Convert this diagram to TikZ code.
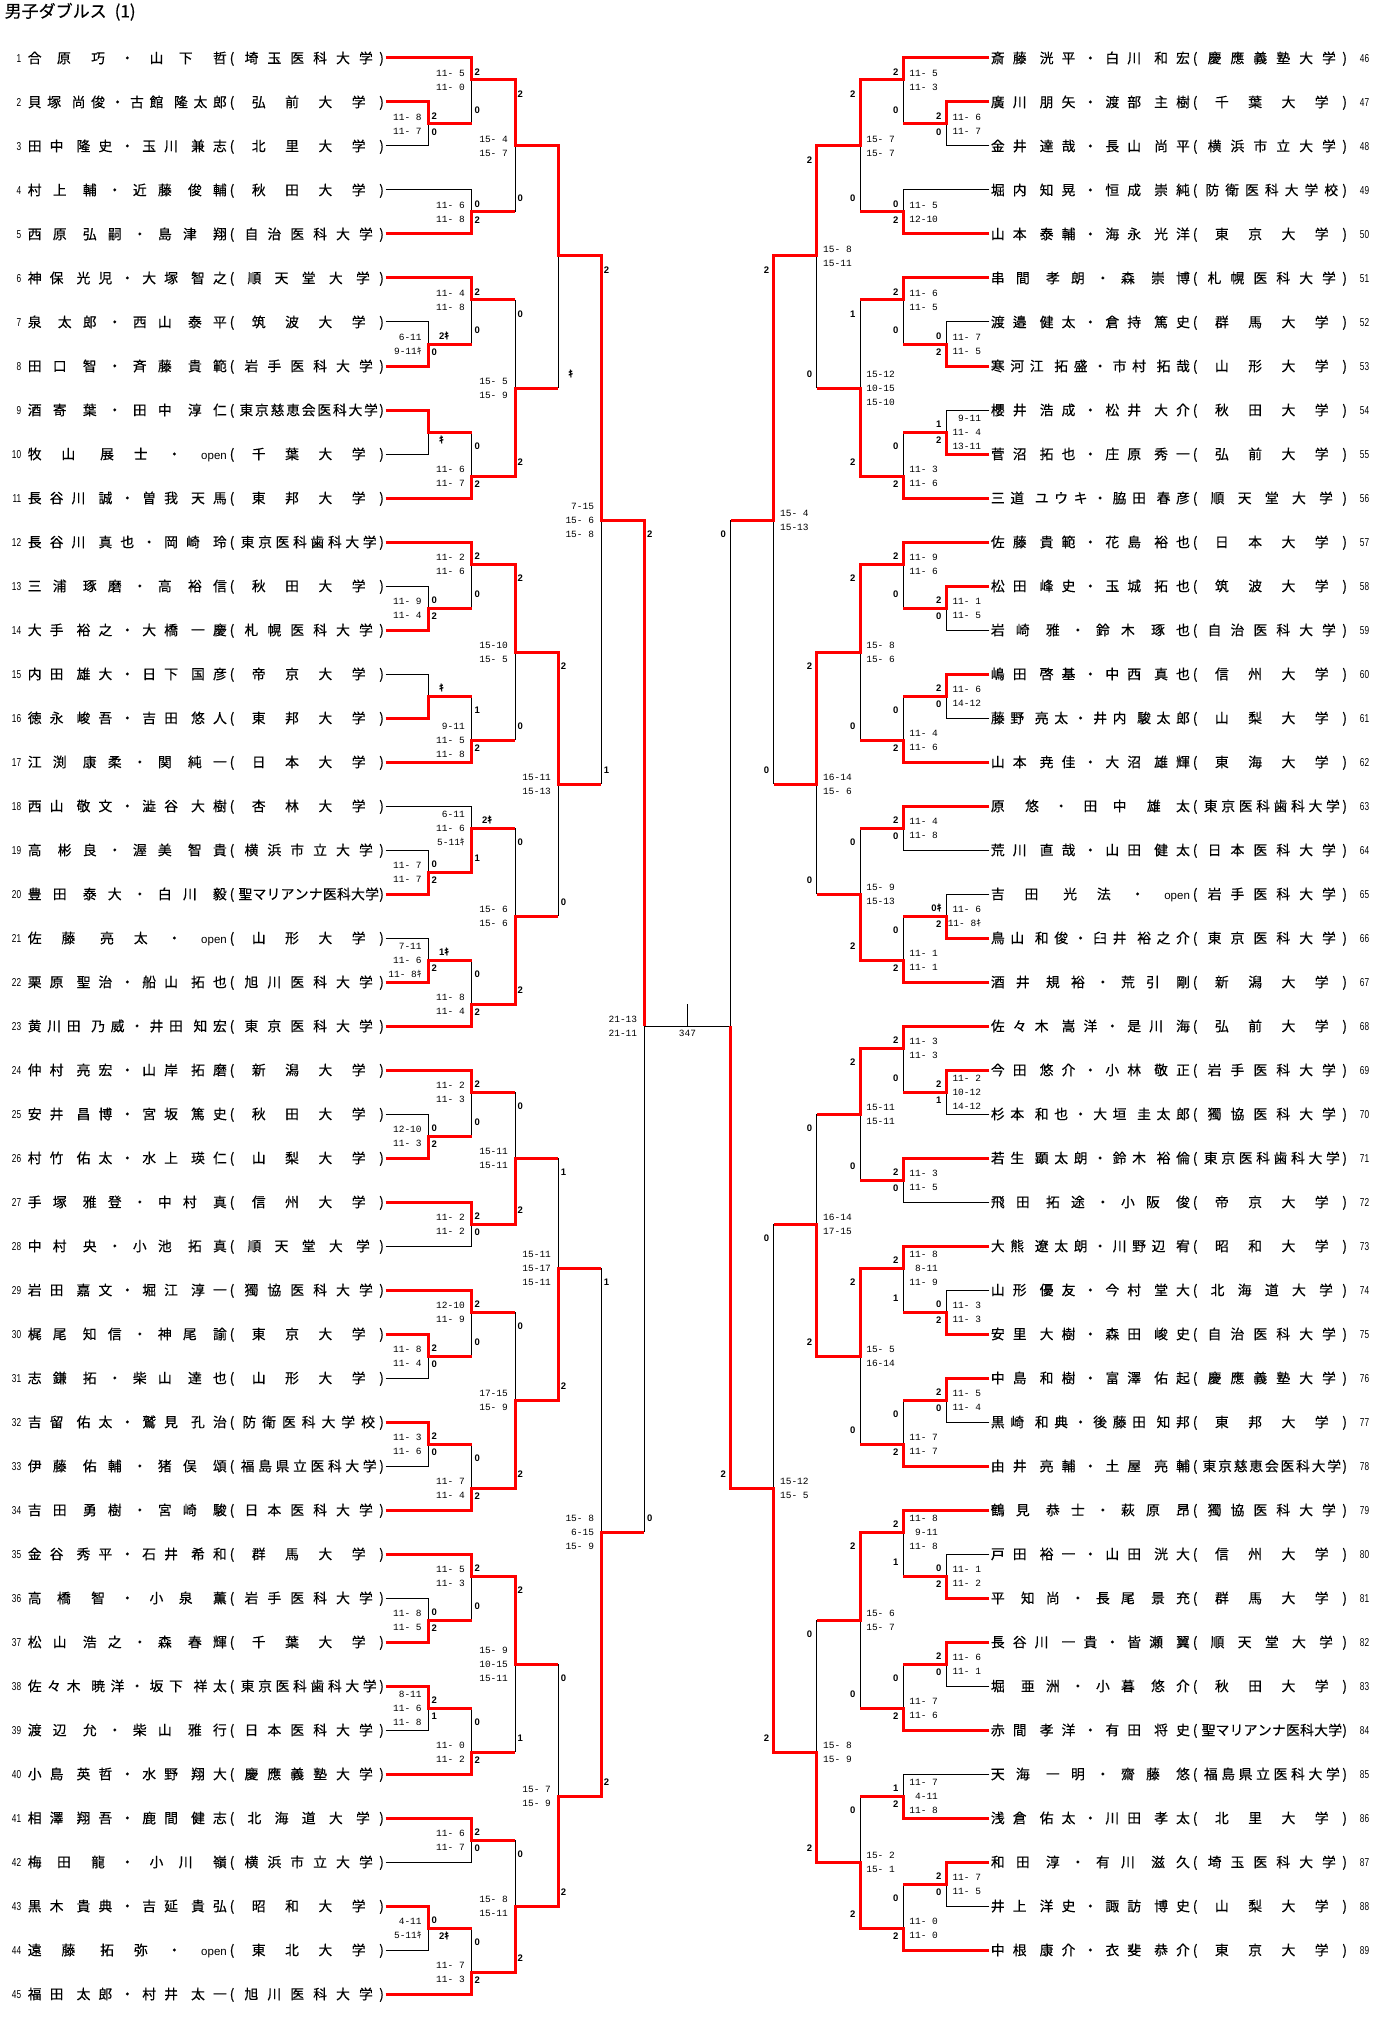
\documentclass[tikz,border=0pt]{standalone}
\usepackage{fontspec}
\setmainfont{Liberation Sans}
\newfontfamily\cjk{Noto Sans CJK JP}
\newfontfamily\cjkn[FakeBold=0.35]{Noto Sans CJK JP}
\newfontfamily\monof{Liberation Mono}
\newfontfamily\numf[FakeStretch=0.72]{Liberation Sans}
\newfontfamily\latf{Liberation Sans}
\pgfdeclarelayer{bg}
\pgfdeclarelayer{blk}
\pgfsetlayers{bg,blk,main}
\makeatletter
\def\bzsp{|}
\newcommand\bspreadname[1]{\makebox[199pt][s]{\@tfor\nx:=#1\do{\ifx\nx\bzsp\hspace{5pt}\else\nx\hfill\fi}\unskip}}
\newcommand\bspreaduni[1]{\makebox[141pt][s]{\hskip 0pt plus 0.7fil\relax\@tfor\nx:=#1\do{\nx\hskip 0pt plus 1fil\relax}\hskip 0pt plus -0.3fil\relax}}
\makeatother
\newcommand\bop{{\latf\fontsize{11.5}{12}\selectfont open}}
\newcommand\bki{{\cjk ｷ}}
\newcommand\bK{\hspace{7.5pt}}
\newcommand\bXL[1]{(385.7+43.1*(#1))}
\newcommand\bXR[1]{(989.3-43.1*(#1))}
\newcommand\bY[1]{(58+22*(#1))}
\tikzset{
 rd/.style={draw=red, line width=3pt, line join=miter},
 bl/.style={draw=black, line width=1pt},
 lab/.style={font=\bfseries\fontsize{9.5}{10}\selectfont, inner sep=0pt, text height=6.8pt, text depth=0pt},
 sc/.style={font=\monof\fontsize{9.5}{10}\selectfont, inner sep=0pt, text height=6.3pt, text depth=0pt},
 nametxt/.style={font=\cjkn\fontsize{13.8}{14}\selectfont, inner sep=0pt, text height=10.4pt, text depth=0pt},
 numtxt/.style={font=\numf\fontsize{11.5}{12}\selectfont, inner sep=0pt, text height=8.2pt, text depth=0pt},
}
% players
\newcommand\bLw[2]{\draw[rd] ({\bXL{0}},{\bY{#1}}) -- ({\bXL{#2}},{\bY{#1}});}
\newcommand\bLl[2]{\begin{pgfonlayer}{blk}\draw[bl] ({\bXL{0}},{\bY{#1}}) -- ({\bXL{#2}},{\bY{#1}});\end{pgfonlayer}}
\newcommand\bRw[2]{\draw[rd] ({\bXR{0}},{\bY{#1}}) -- ({\bXR{#2}},{\bY{#1}});}
\newcommand\bRl[2]{\begin{pgfonlayer}{blk}\draw[bl] ({\bXR{0}},{\bY{#1}}) -- ({\bXR{#2}},{\bY{#1}});\end{pgfonlayer}}
% matches: col, top, bottom, winner-in, out, next col, top label, bottom label
\newcommand\bLM[8]{%
 \begin{pgfonlayer}{blk}\draw[bl] ({\bXL{#1}},{\bY{#2}}) -- ({\bXL{#1}},{\bY{#3}});\end{pgfonlayer}
 \draw[rd] ({\bXL{#1}-3},{\bY{#4}}) -- ({\bXL{#1}},{\bY{#4}}) -- ({\bXL{#1}},{\bY{#5}}) -- ({\bXL{#6}},{\bY{#5}});
 \node[lab,anchor=west] (lt-#1-#2) at ({\bXL{#1}+2.5},{\bY{#2}+14.3}) {#7};
 \node[lab,anchor=west] (lb-#1-#3) at ({\bXL{#1}+2.5},{\bY{#3}-14.3}) {#8};}
\newcommand\bRM[8]{%
 \begin{pgfonlayer}{blk}\draw[bl] ({\bXR{#1}},{\bY{#2}}) -- ({\bXR{#1}},{\bY{#3}});\end{pgfonlayer}
 \draw[rd] ({\bXR{#1}+3},{\bY{#4}}) -- ({\bXR{#1}},{\bY{#4}}) -- ({\bXR{#1}},{\bY{#5}}) -- ({\bXR{#6}},{\bY{#5}});
 \node[lab,anchor=east] (rt-#1-#2) at ({\bXR{#1}-4.5},{\bY{#2}+14.3}) {#7};
 \node[lab,anchor=east] (rb-#1-#3) at ({\bXR{#1}-4.5},{\bY{#3}-14.3}) {#8};}
% scores: col, out, n lines, list
\newcommand\bLS[4]{\foreach \sx [count=\ix] in {#4} {\node[sc,anchor=east] (ls-#1-#2-\ix) at ({\bXL{#1}-7},{\bY{#2}+(\ix-(#3+1)/2)*14}) {\sx};}}
\newcommand\bRS[4]{\foreach \sx [count=\ix] in {#4} {\node[sc,anchor=east] (rs-#1-#2-\ix) at ({\bXR{#1}+35},{\bY{#2}+(\ix-(#3+1)/2)*14}) {\sx};}}
% names: number, h, name, university
\newcommand\bLN[4]{%
 \node[numtxt,anchor=east] (n#1) at (21.4,{\bY{#2}}) {#1};
 \node[nametxt,anchor=west] (p#1) at (27.6,{\bY{#2}}) {\bspreadname{#3}};
 \node[nametxt] (po#1) at (232,{\bY{#2}}) {(};
 \node[nametxt,anchor=west] (u#1) at (238,{\bY{#2}}) {\bspreaduni{#4}};
 \node[nametxt] (pc#1) at (381.6,{\bY{#2}}) {)};}
\newcommand\bRN[4]{%
 \node[numtxt,anchor=west] (n#1) at (1359.7,{\bY{#2}}) {#1};
 \node[nametxt,anchor=west] (p#1) at (990.7,{\bY{#2}}) {\bspreadname{#3}};
 \node[nametxt] (po#1) at (1195.1,{\bY{#2}}) {(};
 \node[nametxt,anchor=west] (u#1) at (1201.1,{\bY{#2}}) {\bspreaduni{#4}};
 \node[nametxt] (pc#1) at (1344.7,{\bY{#2}}) {)};}
\begin{document}
\begin{tikzpicture}[x=1pt,y=-1pt]
\begin{pgfonlayer}{bg}\fill[white] (0,0) rectangle (1375,2017);\end{pgfonlayer}
\useasboundingbox (0,0) rectangle (1375,2017);
\node[anchor=base west, font=\cjkn\fontsize{17}{18}\selectfont, inner sep=0pt] (title) at (4.5,17.4) {男子ダブルス\hspace{8pt}(1)};
% ---------------- left names
\bLN{1}{0}{合原|巧・山下|哲}{埼玉医科大学}
\bLN{2}{2}{貝塚|尚俊・古館|隆太郎}{弘前大学}
\bLN{3}{4}{田中|隆史・玉川|兼志}{北里大学}
\bLN{4}{6}{村上|輔・近藤|俊輔}{秋田大学}
\bLN{5}{8}{西原|弘嗣・島津|翔}{自治医科大学}
\bLN{6}{10}{神保|光児・大塚|智之}{順天堂大学}
\bLN{7}{12}{泉|太郎・西山|泰平}{筑波大学}
\bLN{8}{14}{田口|智・斉藤|貴範}{岩手医科大学}
\bLN{9}{16}{酒寄|葉・田中|淳仁}{東京慈恵会医科大学}
\bLN{10}{18}{牧山|展士・\bop}{千葉大学}
\bLN{11}{20}{長谷川|誠・曽我|天馬}{東邦大学}
\bLN{12}{22}{長谷川|真也・岡崎|玲}{東京医科歯科大学}
\bLN{13}{24}{三浦|琢磨・高|裕信}{秋田大学}
\bLN{14}{26}{大手|裕之・大橋|一慶}{札幌医科大学}
\bLN{15}{28}{内田|雄大・日下|国彦}{帝京大学}
\bLN{16}{30}{徳永|峻吾・吉田|悠人}{東邦大学}
\bLN{17}{32}{江渕|康柔・関|純一}{日本大学}
\bLN{18}{34}{西山|敬文・澁谷|大樹}{杏林大学}
\bLN{19}{36}{高|彬良・渥美|智貴}{横浜市立大学}
\bLN{20}{38}{豊田|泰大・白川|毅}{聖マリアンナ医科大学}
\bLN{21}{40}{佐藤|亮太・\bop}{山形大学}
\bLN{22}{42}{栗原|聖治・船山|拓也}{旭川医科大学}
\bLN{23}{44}{黄川田|乃威・井田|知宏}{東京医科大学}
\bLN{24}{46}{仲村|亮宏・山岸|拓磨}{新潟大学}
\bLN{25}{48}{安井|昌博・宮坂|篤史}{秋田大学}
\bLN{26}{50}{村竹|佑太・水上|瑛仁}{山梨大学}
\bLN{27}{52}{手塚|雅登・中村|真}{信州大学}
\bLN{28}{54}{中村|央・小池|拓真}{順天堂大学}
\bLN{29}{56}{岩田|嘉文・堀江|淳一}{獨協医科大学}
\bLN{30}{58}{梶尾|知信・神尾|諭}{東京大学}
\bLN{31}{60}{志鎌|拓・柴山|達也}{山形大学}
\bLN{32}{62}{吉留|佑太・鷲見|孔治}{防衛医科大学校}
\bLN{33}{64}{伊藤|佑輔・猪俣|頌}{福島県立医科大学}
\bLN{34}{66}{吉田|勇樹・宮崎|駿}{日本医科大学}
\bLN{35}{68}{金谷|秀平・石井|希和}{群馬大学}
\bLN{36}{70}{高橋|智・小泉|薫}{岩手医科大学}
\bLN{37}{72}{松山|浩之・森|春輝}{千葉大学}
\bLN{38}{74}{佐々木|暁洋・坂下|祥太}{東京医科歯科大学}
\bLN{39}{76}{渡辺|允・柴山|雅行}{日本医科大学}
\bLN{40}{78}{小島|英哲・水野|翔大}{慶應義塾大学}
\bLN{41}{80}{相澤|翔吾・鹿間|健志}{北海道大学}
\bLN{42}{82}{梅田|龍・小川|嶺}{横浜市立大学}
\bLN{43}{84}{黒木|貴典・吉延|貴弘}{昭和大学}
\bLN{44}{86}{遠藤|拓弥・\bop}{東北大学}
\bLN{45}{88}{福田|太郎・村井|太一}{旭川医科大学}
% ---------------- right names
\bRN{46}{0}{斎藤|洸平・白川|和宏}{慶應義塾大学}
\bRN{47}{2}{廣川|朋矢・渡部|主樹}{千葉大学}
\bRN{48}{4}{金井|達哉・長山|尚平}{横浜市立大学}
\bRN{49}{6}{堀内|知晃・恒成|崇純}{防衛医科大学校}
\bRN{50}{8}{山本|泰輔・海永|光洋}{東京大学}
\bRN{51}{10}{串間|孝朗・森|崇博}{札幌医科大学}
\bRN{52}{12}{渡邉|健太・倉持|篤史}{群馬大学}
\bRN{53}{14}{寒河江|拓盛・市村|拓哉}{山形大学}
\bRN{54}{16}{櫻井|浩成・松井|大介}{秋田大学}
\bRN{55}{18}{菅沼|拓也・庄原|秀一}{弘前大学}
\bRN{56}{20}{三道|ユウキ・脇田|春彦}{順天堂大学}
\bRN{57}{22}{佐藤|貴範・花島|裕也}{日本大学}
\bRN{58}{24}{松田|峰史・玉城|拓也}{筑波大学}
\bRN{59}{26}{岩崎|雅・鈴木|琢也}{自治医科大学}
\bRN{60}{28}{嶋田|啓基・中西|真也}{信州大学}
\bRN{61}{30}{藤野|亮太・井内|駿太郎}{山梨大学}
\bRN{62}{32}{山本|尭佳・大沼|雄輝}{東海大学}
\bRN{63}{34}{原|悠・田中|雄太}{東京医科歯科大学}
\bRN{64}{36}{荒川|直哉・山田|健太}{日本医科大学}
\bRN{65}{38}{吉田|光法・\bop}{岩手医科大学}
\bRN{66}{40}{鳥山|和俊・臼井|裕之介}{東京医科大学}
\bRN{67}{42}{酒井|規裕・荒引|剛}{新潟大学}
\bRN{68}{44}{佐々木|嵩洋・是川|海}{弘前大学}
\bRN{69}{46}{今田|悠介・小林|敬正}{岩手医科大学}
\bRN{70}{48}{杉本|和也・大垣|圭太郎}{獨協医科大学}
\bRN{71}{50}{若生|顕太朗・鈴木|裕倫}{東京医科歯科大学}
\bRN{72}{52}{飛田|拓途・小阪|俊}{帝京大学}
\bRN{73}{54}{大熊|遼太朗・川野辺|宥}{昭和大学}
\bRN{74}{56}{山形|優友・今村|堂大}{北海道大学}
\bRN{75}{58}{安里|大樹・森田|峻史}{自治医科大学}
\bRN{76}{60}{中島|和樹・富澤|佑起}{慶應義塾大学}
\bRN{77}{62}{黒崎|和典・後藤田|知邦}{東邦大学}
\bRN{78}{64}{由井|亮輔・土屋|亮輔}{東京慈恵会医科大学}
\bRN{79}{66}{鶴見|恭士・萩原|昂}{獨協医科大学}
\bRN{80}{68}{戸田|裕一・山田|洸大}{信州大学}
\bRN{81}{70}{平|知尚・長尾|景充}{群馬大学}
\bRN{82}{72}{長谷川|一貴・皆瀬|翼}{順天堂大学}
\bRN{83}{74}{堀|亜洲・小暮|悠介}{秋田大学}
\bRN{84}{76}{赤間|孝洋・有田|将史}{聖マリアンナ医科大学}
\bRN{85}{78}{天海|一明・齋藤|悠}{福島県立医科大学}
\bRN{86}{80}{浅倉|佑太・川田|孝太}{北里大学}
\bRN{87}{82}{和田|淳・有川|滋久}{埼玉医科大学}
\bRN{88}{84}{井上|洋史・諏訪|博史}{山梨大学}
\bRN{89}{86}{中根|康介・衣斐|恭介}{東京大学}
% ---------------- left player lines
\bLw{0}{2}\bLw{2}{1}\bLl{4}{1}\bLl{6}{2}\bLw{8}{2}\bLw{10}{2}\bLl{12}{1}\bLw{14}{1}
\bLw{16}{1}\bLl{18}{1}\bLw{20}{2}\bLw{22}{2}\bLl{24}{1}\bLw{26}{1}\bLl{28}{1}\bLw{30}{1}
\bLw{32}{2}\bLl{34}{2}\bLl{36}{1}\bLw{38}{1}\bLl{40}{1}\bLw{42}{1}\bLw{44}{2}\bLw{46}{2}
\bLl{48}{1}\bLw{50}{1}\bLw{52}{2}\bLl{54}{2}\bLw{56}{2}\bLw{58}{1}\bLl{60}{1}\bLw{62}{1}
\bLl{64}{1}\bLw{66}{2}\bLw{68}{2}\bLl{70}{1}\bLw{72}{1}\bLw{74}{1}\bLl{76}{1}\bLw{78}{2}
\bLw{80}{2}\bLl{82}{2}\bLw{84}{1}\bLl{86}{1}\bLw{88}{2}
% ---------------- left matches
\bLM{1}{2}{4}{2}{3}{2}{2}{0}\bLS{1}{3}{2}{11- 8,11- 7}
\bLM{2}{0}{3}{0}{1}{3}{2}{0}\bLS{2}{1}{2}{11- 5,11- 0}
\bLM{2}{6}{8}{8}{7}{3}{0}{2}\bLS{2}{7}{2}{11- 6,11- 8}
\bLM{3}{1}{7}{1}{4}{4}{2}{0}\bLS{3}{4}{2}{15- 4,15- 7}
\bLM{1}{12}{14}{14}{13}{2}{\bK 2\bki}{0}\bLS{1}{13}{2}{6-11,9-11\bki}
\bLM{2}{10}{13}{10}{11}{3}{2}{0}\bLS{2}{11}{2}{11- 4,11- 8}
\bLM{1}{16}{18}{16}{17}{2}{}{\bK\bki}
\bLM{2}{17}{20}{20}{19}{3}{0}{2}\bLS{2}{19}{2}{11- 6,11- 7}
\bLM{3}{11}{19}{19}{15}{4}{0}{2}\bLS{3}{15}{2}{15- 5,15- 9}
\bLM{4}{4}{15}{4}{9}{5}{}{\bK\bki}
\bLM{2}{22}{25}{22}{23}{3}{2}{0}\bLS{2}{23}{2}{11- 2,11- 6}
\bLM{1}{24}{26}{26}{25}{2}{0}{2}\bLS{1}{25}{2}{11- 9,11- 4}
\bLM{1}{28}{30}{30}{29}{2}{\bK\bki}{}
\bLM{2}{29}{32}{32}{31}{3}{1}{2}\bLS{2}{31}{3}{9-11,11- 5,11- 8}
\bLM{3}{23}{31}{23}{27}{4}{2}{0}\bLS{3}{27}{2}{15-10,15- 5}
\bLM{1}{36}{38}{38}{37}{2}{0}{2}\bLS{1}{37}{2}{11- 7,11- 7}
\bLM{2}{34}{37}{37}{35}{3}{\bK 2\bki}{1}\bLS{2}{35}{3}{6-11,11- 6,5-11\bki}
\bLM{1}{40}{42}{42}{41}{2}{\bK 1\bki}{2}\bLS{1}{41}{3}{7-11,11- 6,11- 8\bki}
\bLM{2}{41}{44}{44}{43}{3}{0}{2}\bLS{2}{43}{2}{11- 8,11- 4}
\bLM{3}{35}{43}{43}{39}{4}{0}{2}\bLS{3}{39}{2}{15- 6,15- 6}
\bLM{4}{27}{39}{27}{33}{5}{2}{0}\bLS{4}{33}{2}{15-11,15-13}
\bLM{5}{9}{33}{9}{21}{6}{2}{1}\bLS{5}{21}{3}{7-15,15- 6,15- 8}
\bLM{1}{48}{50}{50}{49}{2}{0}{2}\bLS{1}{49}{2}{12-10,11- 3}
\bLM{2}{46}{49}{46}{47}{3}{2}{0}\bLS{2}{47}{2}{11- 2,11- 3}
\bLM{2}{52}{54}{52}{53}{3}{2}{0}\bLS{2}{53}{2}{11- 2,11- 2}
\bLM{3}{47}{53}{53}{50}{4}{0}{2}\bLS{3}{50}{2}{15-11,15-11}
\bLM{1}{58}{60}{58}{59}{2}{2}{0}\bLS{1}{59}{2}{11- 8,11- 4}
\bLM{2}{56}{59}{56}{57}{3}{2}{0}\bLS{2}{57}{2}{12-10,11- 9}
\bLM{1}{62}{64}{62}{63}{2}{2}{0}\bLS{1}{63}{2}{11- 3,11- 6}
\bLM{2}{63}{66}{66}{65}{3}{0}{2}\bLS{2}{65}{2}{11- 7,11- 4}
\bLM{3}{57}{65}{65}{61}{4}{0}{2}\bLS{3}{61}{2}{17-15,15- 9}
\bLM{4}{50}{61}{61}{55}{5}{1}{2}\bLS{4}{55}{3}{15-11,15-17,15-11}
\bLM{1}{70}{72}{72}{71}{2}{0}{2}\bLS{1}{71}{2}{11- 8,11- 5}
\bLM{2}{68}{71}{68}{69}{3}{2}{0}\bLS{2}{69}{2}{11- 5,11- 3}
\bLM{1}{74}{76}{74}{75}{2}{2}{1}\bLS{1}{75}{3}{8-11,11- 6,11- 8}
\bLM{2}{75}{78}{78}{77}{3}{0}{2}\bLS{2}{77}{2}{11- 0,11- 2}
\bLM{3}{69}{77}{69}{73}{4}{2}{1}\bLS{3}{73}{3}{15- 9,10-15,15-11}
\bLM{2}{80}{82}{80}{81}{3}{2}{0}\bLS{2}{81}{2}{11- 6,11- 7}
\bLM{1}{84}{86}{84}{85}{2}{0}{\bK 2\bki}\bLS{1}{85}{2}{4-11,5-11\bki}
\bLM{2}{85}{88}{88}{87}{3}{0}{2}\bLS{2}{87}{2}{11- 7,11- 3}
\bLM{3}{81}{87}{87}{84}{4}{0}{2}\bLS{3}{84}{2}{15- 8,15-11}
\bLM{4}{73}{84}{84}{79}{5}{0}{2}\bLS{4}{79}{2}{15- 7,15- 9}
\bLM{5}{55}{79}{79}{67}{6}{1}{2}\bLS{5}{67}{3}{15- 8,6-15,15- 9}
% left half final (col 6)
\begin{pgfonlayer}{blk}\draw[bl] ({\bXL{6}},{\bY{21}}) -- ({\bXL{6}},{\bY{67}});\end{pgfonlayer}
\draw[rd] ({\bXL{6}-3},{\bY{21}}) -- ({\bXL{6}},{\bY{21}}) -- ({\bXL{6}},{\bY{44}});
\node[lab,anchor=west] (lt-6) at ({\bXL{6}+2.5},{\bY{21}+14.3}) {2};
\node[lab,anchor=west] (lb-6) at ({\bXL{6}+2.5},{\bY{67}-14.3}) {0};
\bLS{6}{44}{2}{21-13,21-11}
% ---------------- right player lines
\bRw{0}{2}\bRw{2}{1}\bRl{4}{1}\bRl{6}{2}\bRw{8}{2}\bRw{10}{2}\bRl{12}{1}\bRw{14}{1}
\bRl{16}{1}\bRw{18}{1}\bRw{20}{2}\bRw{22}{2}\bRw{24}{1}\bRl{26}{1}\bRw{28}{1}\bRl{30}{1}
\bRw{32}{2}\bRw{34}{2}\bRl{36}{2}\bRl{38}{1}\bRw{40}{1}\bRw{42}{2}\bRw{44}{2}\bRw{46}{1}
\bRl{48}{1}\bRw{50}{2}\bRl{52}{2}\bRw{54}{2}\bRl{56}{1}\bRw{58}{1}\bRw{60}{1}\bRl{62}{1}
\bRw{64}{2}\bRw{66}{2}\bRl{68}{1}\bRw{70}{1}\bRw{72}{1}\bRl{74}{1}\bRw{76}{2}\bRl{78}{2}
\bRw{80}{2}\bRw{82}{1}\bRl{84}{1}\bRw{86}{2}
% ---------------- right matches
\bRM{1}{2}{4}{2}{3}{2}{2}{0}\bRS{1}{3}{2}{11- 6,11- 7}
\bRM{2}{0}{3}{0}{1}{3}{2}{0}\bRS{2}{1}{2}{11- 5,11- 3}
\bRM{2}{6}{8}{8}{7}{3}{0}{2}\bRS{2}{7}{2}{11- 5,12-10}
\bRM{3}{1}{7}{1}{4}{4}{2}{0}\bRS{3}{4}{2}{15- 7,15- 7}
\bRM{1}{12}{14}{14}{13}{2}{0}{2}\bRS{1}{13}{2}{11- 7,11- 5}
\bRM{2}{10}{13}{10}{11}{3}{2}{0}\bRS{2}{11}{2}{11- 6,11- 5}
\bRM{1}{16}{18}{18}{17}{2}{1}{2}\bRS{1}{17}{3}{9-11,11- 4,13-11}
\bRM{2}{17}{20}{20}{19}{3}{0}{2}\bRS{2}{19}{2}{11- 3,11- 6}
\bRM{3}{11}{19}{19}{15}{4}{1}{2}\bRS{3}{15}{3}{15-12,10-15,15-10}
\bRM{4}{4}{15}{4}{9}{5}{2}{0}\bRS{4}{9}{2}{15- 8,15-11}
\bRM{1}{24}{26}{24}{25}{2}{2}{0}\bRS{1}{25}{2}{11- 1,11- 5}
\bRM{2}{22}{25}{22}{23}{3}{2}{0}\bRS{2}{23}{2}{11- 9,11- 6}
\bRM{1}{28}{30}{28}{29}{2}{2}{0}\bRS{1}{29}{2}{11- 6,14-12}
\bRM{2}{29}{32}{32}{31}{3}{0}{2}\bRS{2}{31}{2}{11- 4,11- 6}
\bRM{3}{23}{31}{23}{27}{4}{2}{0}\bRS{3}{27}{2}{15- 8,15- 6}
\bRM{2}{34}{36}{34}{35}{3}{2}{0}\bRS{2}{35}{2}{11- 4,11- 8}
\bRM{1}{38}{40}{40}{39}{2}{0\bki\bK}{2}\bRS{1}{39}{2}{11- 6,11- 8\bki}
\bRM{2}{39}{42}{42}{41}{3}{0}{2}\bRS{2}{41}{2}{11- 1,11- 1}
\bRM{3}{35}{41}{41}{38}{4}{0}{2}\bRS{3}{38}{2}{15- 9,15-13}
\bRM{4}{27}{38}{27}{33}{5}{2}{0}\bRS{4}{33}{2}{16-14,15- 6}
\bRM{5}{9}{33}{9}{21}{6}{2}{0}\bRS{5}{21}{2}{15- 4,15-13}
\bRM{1}{46}{48}{46}{47}{2}{2}{1}\bRS{1}{47}{3}{11- 2,10-12,14-12}
\bRM{2}{44}{47}{44}{45}{3}{2}{0}\bRS{2}{45}{2}{11- 3,11- 3}
\bRM{2}{50}{52}{50}{51}{3}{2}{0}\bRS{2}{51}{2}{11- 3,11- 5}
\bRM{3}{45}{51}{45}{48}{4}{2}{0}\bRS{3}{48}{2}{15-11,15-11}
\bRM{1}{56}{58}{58}{57}{2}{0}{2}\bRS{1}{57}{2}{11- 3,11- 3}
\bRM{2}{54}{57}{54}{55}{3}{2}{1}\bRS{2}{55}{3}{11- 8,8-11,11- 9}
\bRM{1}{60}{62}{60}{61}{2}{2}{0}\bRS{1}{61}{2}{11- 5,11- 4}
\bRM{2}{61}{64}{64}{63}{3}{0}{2}\bRS{2}{63}{2}{11- 7,11- 7}
\bRM{3}{55}{63}{55}{59}{4}{2}{0}\bRS{3}{59}{2}{15- 5,16-14}
\bRM{4}{48}{59}{59}{53}{5}{0}{2}\bRS{4}{53}{2}{16-14,17-15}
\bRM{1}{68}{70}{70}{69}{2}{0}{2}\bRS{1}{69}{2}{11- 1,11- 2}
\bRM{2}{66}{69}{66}{67}{3}{2}{1}\bRS{2}{67}{3}{11- 8,9-11,11- 8}
\bRM{1}{72}{74}{72}{73}{2}{2}{0}\bRS{1}{73}{2}{11- 6,11- 1}
\bRM{2}{73}{76}{76}{75}{3}{0}{2}\bRS{2}{75}{2}{11- 7,11- 6}
\bRM{3}{67}{75}{67}{71}{4}{2}{0}\bRS{3}{71}{2}{15- 6,15- 7}
\bRM{2}{78}{80}{80}{79}{3}{1}{2}\bRS{2}{79}{3}{11- 7,4-11,11- 8}
\bRM{1}{82}{84}{82}{83}{2}{2}{0}\bRS{1}{83}{2}{11- 7,11- 5}
\bRM{2}{83}{86}{86}{85}{3}{0}{2}\bRS{2}{85}{2}{11- 0,11- 0}
\bRM{3}{79}{85}{85}{82}{4}{0}{2}\bRS{3}{82}{2}{15- 2,15- 1}
\bRM{4}{71}{82}{82}{77}{5}{0}{2}\bRS{4}{77}{2}{15- 8,15- 9}
\bRM{5}{53}{77}{77}{65}{6}{0}{2}\bRS{5}{65}{2}{15-12,15- 5}
% right half final (col 6)
\begin{pgfonlayer}{blk}\draw[bl] ({\bXR{6}},{\bY{21}}) -- ({\bXR{6}},{\bY{65}});\end{pgfonlayer}
\draw[rd] ({\bXR{6}+3},{\bY{65}}) -- ({\bXR{6}},{\bY{65}}) -- ({\bXR{6}},{\bY{44}});
\node[lab,anchor=east] (rt-6) at ({\bXR{6}-4.5},{\bY{21}+14.3}) {0};
\node[lab,anchor=east] (rb-6) at ({\bXR{6}-4.5},{\bY{65}-14.3}) {2};
% ---------------- final
\coordinate (fl) at ({\bXL{6}},{\bY{44}});
\coordinate (fr) at ({\bXR{6}},{\bY{44}});
\coordinate (fc) at (687.5,{\bY{44}});
\coordinate (ft) at (687.5,{\bY{43}});
\begin{pgfonlayer}{blk}
\draw[bl] (fl) -- (fr);
\draw[bl] (ft) -- (fc);
\end{pgfonlayer}
\node[sc] (final) at (687.5,1033.3) {347};
\end{tikzpicture}
\end{document}
